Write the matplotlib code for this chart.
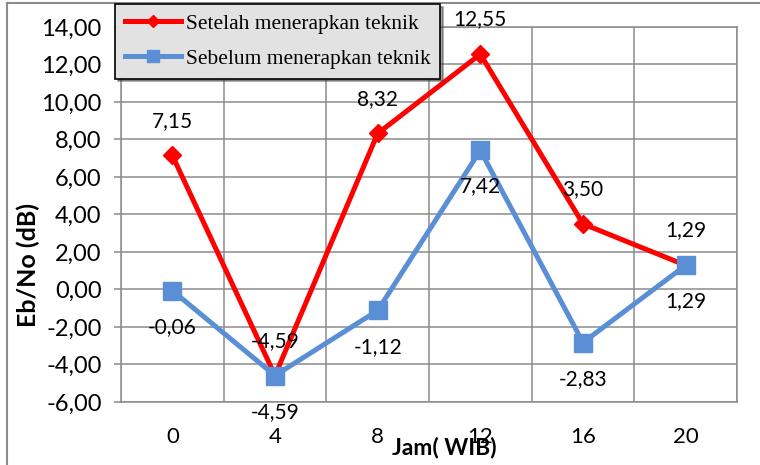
import matplotlib
matplotlib.use("Agg")
import matplotlib.pyplot as plt
from matplotlib.ticker import FuncFormatter, MultipleLocator
from matplotlib.lines import Line2D


jam = ["0", "4", "8", "12", "16", "20"]
setelah = [7.15, -4.59, 8.32, 12.55, 3.50, 1.29]
sebelum = [-0.06, -4.59, -1.12, 7.42, -2.83, 1.29]

label_setelah = "Setelah menerapkan teknik"
label_sebelum = "Sebelum menerapkan teknik"

RED = "#ff0000"
BLUE = "#5a8fd6"
GRID = "#8c8c8c"


def koma(v, pos=None):
    # decimal comma, two places
    return ("%.2f" % v).replace(".", ",")


fig = plt.figure(figsize=(7.6, 4.65), dpi=100)
ax = fig.add_axes([121 / 760, 1 - 402 / 465, (737 - 121) / 760, (402 - 27) / 465])

x = list(range(len(jam)))

ax.plot(x, setelah, color=RED, lw=3.6, marker="D", ms=9.5,
        label=label_setelah, zorder=3)
ax.plot(x, sebelum, color=BLUE, lw=3.6, marker="s", ms=13.5,
        label=label_sebelum, zorder=4)

# value labels: red above, blue below
for i in x:
    ax.annotate(koma(setelah[i]), (i, setelah[i]), xytext=(0, 25),
                textcoords="offset points", ha="center", va="center",
                fontsize=15, family="Lato", zorder=6)
    ax.annotate(koma(sebelum[i]), (i, sebelum[i]), xytext=(0, -26),
                textcoords="offset points", ha="center", va="center",
                fontsize=15, family="Lato", zorder=6)

ax.set_xlim(-0.5, len(jam) - 0.5)
ax.set_ylim(-6, 14)
ax.yaxis.set_major_locator(MultipleLocator(2))
ax.yaxis.set_major_formatter(FuncFormatter(koma))
ax.set_xticks(x)
ax.set_xticklabels(jam)
ax.set_xticks([i - 0.5 for i in range(len(jam) + 1)], minor=True)

ax.grid(axis="y", which="major", color=GRID, lw=1.1)
ax.grid(axis="x", which="minor", color=GRID, lw=1.1)
ax.set_axisbelow(True)
for s in ax.spines.values():
    s.set_color(GRID)
    s.set_linewidth(1.1)

ax.tick_params(axis="y", which="major", length=5, color=GRID, width=1.1,
               pad=9, labelsize=17)
ax.tick_params(axis="x", which="both", length=0, pad=18, labelsize=16)
for t in ax.get_xticklabels() + ax.get_yticklabels():
    t.set_family("Lato")

fig.text(444 / 760, 1 - 447 / 465, "Jam( WIB)", ha="center", va="center",
         fontsize=16.5, fontweight="bold", family="Lato")
fig.text(28 / 760, 1 - 265 / 465, "Eb/No (dB)", ha="center", va="center",
         rotation=90, fontsize=18, fontweight="bold", family="Lato")

leg = fig.legend(loc="upper left", bbox_to_anchor=(115 / 760, 1 - 4 / 465),
                 bbox_transform=fig.transFigure, frameon=True, fancybox=False,
                 shadow=True, facecolor="#e2e2e2", edgecolor="black",
                 framealpha=1, prop={"family": "Liberation Serif", "size": 15.5},
                 handlelength=2.6, handletextpad=0.25, borderpad=0.45,
                 labelspacing=0.7, markerscale=0.65, borderaxespad=0)
leg.get_frame().set_linewidth(1.2)
leg.set_zorder(10)

# chart frame (left and top edges)
fig.add_artist(Line2D([7 / 760, 7 / 760], [0, 1 - 3 / 465],
                      transform=fig.transFigure, color=GRID, lw=1.5))
fig.add_artist(Line2D([7 / 760, 1], [1 - 3 / 465, 1 - 3 / 465],
                      transform=fig.transFigure, color=GRID, lw=1.5))

fig.savefig("out.png", dpi=100)
